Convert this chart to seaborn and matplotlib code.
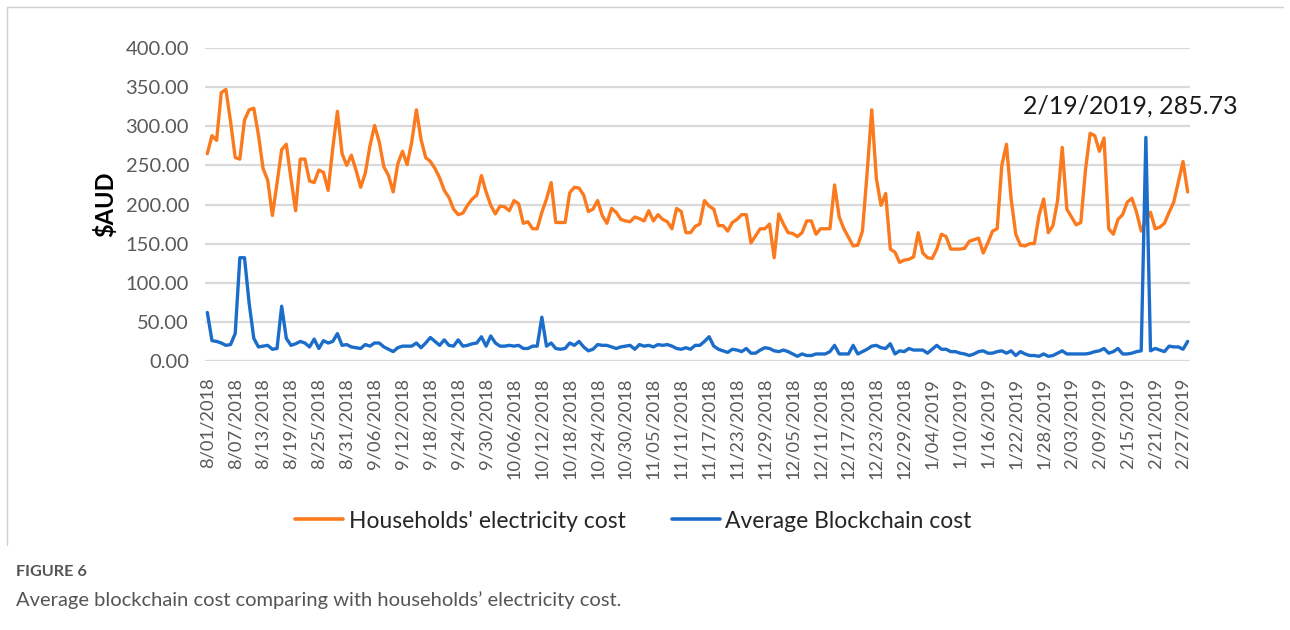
import numpy as np
import pandas as pd
import matplotlib
matplotlib.use("Agg")
import matplotlib.pyplot as plt
import seaborn as sns
from matplotlib.lines import Line2D

# ---------------- data ----------------
start_date = "2018-08-01"
end_date = "2019-02-28"
series_names = ["Households' electricity cost", "Average Blockchain cost"]

household_cost = [
    265, 288, 282, 343, 347, 306, 260, 258, 308, 321, 323, 289, 246, 231, 186, 227, 270, 277, 233, 192,
    258, 258, 230, 228, 244, 241, 218, 272, 319, 265, 250, 263, 244, 222, 240,
    275, 301, 280, 248, 237, 216, 252, 268, 251, 280, 321, 283, 260, 255, 246, 234, 218, 209, 194, 187,
    189, 199, 207, 212, 237, 216, 199, 188, 198, 197, 192, 205, 201, 176, 178, 169,
    169, 190, 207, 228, 177, 177, 177, 215, 222, 221, 212, 191, 194, 205, 186, 176, 195, 190, 181, 179,
    178, 184, 182, 179, 192, 179, 187, 181, 178, 169, 195, 191, 164, 164, 172,
    175, 205, 198, 194, 173, 173, 166, 177, 181, 187, 187, 151, 160, 169, 169, 175, 132, 188, 175, 164,
    163, 159, 164, 179, 179, 162, 169, 169, 169, 225, 184, 169, 158, 147, 148, 166,
    240, 321, 233, 199, 214, 143, 139, 126, 129, 130, 133, 164, 138, 132, 131, 143, 162, 159, 143, 143,
    143, 144, 153, 155, 157, 138, 151, 166, 169, 250, 277, 207, 162, 148, 147, 150,
    150, 186, 207, 164, 173, 205, 273, 194, 184, 174, 177, 244, 291, 288, 268, 285, 169, 162, 181, 187,
    203, 208, 190, 166, 179, 190, 169, 171, 176, 190, 203, 229, 255, 216,
]

blockchain_cost = [
    62, 26, 25, 23, 20, 21, 35, 132, 132, 74, 29, 18, 19, 20, 15, 16, 70, 29, 20, 22,
    25, 23, 18, 28, 16, 26, 23, 25, 35, 20, 21, 18, 17, 16, 21,
    19, 23, 23, 18, 15, 12, 17, 19, 19, 19, 23, 17, 23, 30, 25, 20, 27, 20, 19, 27,
    19, 20, 22, 23, 31, 19, 32, 23, 19, 19, 20, 19, 20, 16, 16, 19,
    19, 56, 19, 23, 16, 15, 16, 23, 20, 25, 18, 13, 15, 21, 20, 20, 18, 16, 18, 19,
    20, 15, 21, 19, 20, 18, 21, 20, 21, 19, 16, 15, 17, 15, 20,
    20, 25, 31, 19, 15, 13, 11, 15, 14, 12, 16, 10, 10, 14, 17, 16, 13, 12, 14, 12,
    9, 6, 9, 7, 7, 9, 9, 9, 12, 20, 9, 9, 9, 20, 9, 12,
    15, 19, 20, 17, 16, 22, 9, 13, 12, 16, 14, 14, 14, 10, 15, 20, 15, 15, 12, 12,
    10, 9, 7, 9, 12, 13, 10, 10, 12, 13, 10, 13, 7, 12, 9, 7,
    7, 6, 9, 6, 7, 10, 13, 9, 9, 9, 9, 9, 10, 12, 13, 16, 10, 12, 16, 9,
    9, 10, 12, 13, 285.73, 13, 16, 14, 12, 19, 18, 18, 15, 25,
]

y_ticks = [0, 50, 100, 150, 200, 250, 300, 350, 400]
tick_step_days = 6

# ---------------- frame ----------------
dates = pd.date_range(start_date, end_date, freq="D")
n = len(dates)
idx = np.arange(n)
df = pd.DataFrame({
    "day": np.concatenate([idx, idx]),
    "cost": np.concatenate([household_cost, blockchain_cost]),
    "series": [series_names[0]] * n + [series_names[1]] * n,
})

ORANGE = "#FB7A1E"
BLUE = "#1B6DC9"
GRID = "#D9D9D9"
TICK = "#595959"

sns.set_style("white")
plt.rcParams["font.family"] = ["Lato", "DejaVu Sans"]

fig = plt.figure(figsize=(12.9, 6.3), dpi=100)
ax = fig.add_axes([205 / 1290, 1 - 361 / 630, 985 / 1290, 313 / 630])

sns.lineplot(data=df, x="day", y="cost", hue="series",
             palette={series_names[0]: ORANGE, series_names[1]: BLUE},
             linewidth=2.4, ax=ax, legend=False, zorder=3)

ax.set_xlim(-0.5, n - 0.5)
ax.set_ylim(0, 400)
ax.set_yticks(y_ticks)
ax.set_yticklabels([f"{v:.2f}" for v in y_ticks], color=TICK, fontsize=14.5)
ax.yaxis.grid(True, color=GRID, linewidth=1.6, zorder=0)
ax.xaxis.grid(False)
for s in ax.spines.values():
    s.set_visible(False)
ax.tick_params(axis="both", length=0)
ax.tick_params(axis="y", pad=11.5)

tick_pos = idx[::tick_step_days]
ax.set_xticks(tick_pos)
ax.set_xticklabels([f"{d.month}/{d.day:02d}/{d.year}" for d in dates[tick_pos]],
                   rotation=90, color=TICK, fontsize=13.2)
ax.tick_params(axis="x", pad=12)
ax.set_xlabel("")
ax.set_ylabel("$AUD", fontsize=17, fontweight="bold", color="black", labelpad=6)

# annotation on the blockchain spike
peak_i = int(np.argmax(blockchain_cost))
ax.annotate(f"{dates[peak_i].month}/{dates[peak_i].day}/{dates[peak_i].year}, {blockchain_cost[peak_i]:.2f}",
            xy=(peak_i, blockchain_cost[peak_i]), xytext=(-16, 31), textcoords="offset pixels",
            ha="center", va="center", fontsize=18, color="#1A1A1A")

# legend
handles = [Line2D([0], [0], color=ORANGE, lw=2.6), Line2D([0], [0], color=BLUE, lw=2.6)]
fig.legend(handles, series_names, loc="center", bbox_to_anchor=(0.491, 1 - 521 / 630),
           ncol=2, frameon=False, fontsize=16.5, handlelength=2.1, handletextpad=0.25,
           columnspacing=2.0)

# outer frame (top and left)
fig.add_artist(Line2D([7 / 1290, 1283 / 1290], [1 - 7 / 630, 1 - 7 / 630],
                      transform=fig.transFigure, color="#D0D0D0", lw=1))
fig.add_artist(Line2D([7 / 1290, 7 / 1290], [1 - 7 / 630, 1 - 545 / 630],
                      transform=fig.transFigure, color="#D0D0D0", lw=1))

# caption
fig.text(16 / 1290, 1 - 572 / 630, "FIGURE 6", fontsize=11.7, fontweight="bold",
         color="#555555", va="center", ha="left")
fig.text(16 / 1290, 1 - 600 / 630,
         "Average blockchain cost comparing with households\u2019 electricity cost.",
         fontsize=14.5, color="#555555", va="center", ha="left")

fig.savefig("out.png", dpi=100)
